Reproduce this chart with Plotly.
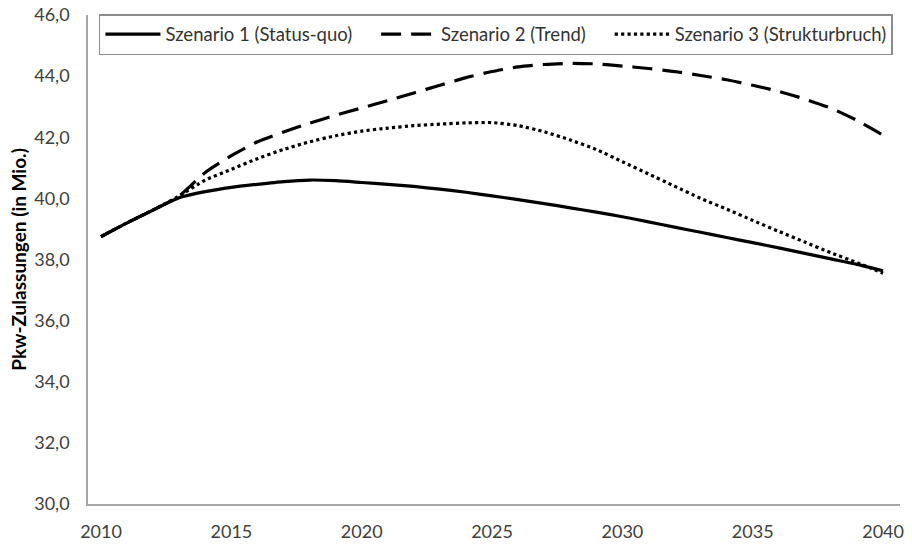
import plotly.graph_objects as go

# Pkw-Bestand in Deutschland nach Szenario (Mio.)
years = list(range(2010, 2041))

szenario_1 = [38.75, 39.20, 39.62, 40.02, 40.22, 40.36, 40.46, 40.55, 40.60, 40.58,
              40.52, 40.46, 40.39, 40.30, 40.20, 40.08, 39.96, 39.83, 39.69, 39.55,
              39.40, 39.23, 39.06, 38.89, 38.72, 38.55, 38.38, 38.20, 38.02, 37.84,
              37.63]

szenario_2 = [38.75, 39.20, 39.62, 40.08, 40.85, 41.40, 41.85, 42.17, 42.46, 42.72,
              42.96, 43.20, 43.45, 43.70, 43.95, 44.15, 44.30, 44.38, 44.42, 44.40,
              44.33, 44.25, 44.15, 44.02, 43.88, 43.70, 43.50, 43.25, 42.95, 42.55,
              42.07]

szenario_3 = [38.75, 39.20, 39.62, 40.08, 40.60, 40.95, 41.30, 41.60, 41.85, 42.05,
              42.20, 42.30, 42.38, 42.43, 42.47, 42.48, 42.38, 42.18, 41.91, 41.60,
              41.20, 40.80, 40.40, 40.00, 39.65, 39.28, 38.92, 38.57, 38.22, 37.90,
              37.55]

names = ["Szenario 1 (Status-quo)", "Szenario 2 (Trend)", "Szenario 3 (Strukturbruch)"]
x_ticks = [2010, 2015, 2020, 2025, 2030, 2035, 2040]
y_ticks = [30, 32, 34, 36, 38, 40, 42, 44, 46]

font_main = "Lato, Arial, sans-serif"
NBSP = "\u00a0"
# trailing spacing between legend entries
legend_pad = [4, 4, 0]

fig = go.Figure()
styles = [("solid", szenario_1), ("20px,10px", szenario_2), ("dot", szenario_3)]
for (dash, values), name, pad in zip(styles, names, legend_pad):
    fig.add_trace(go.Scatter(
        x=years, y=values, name=name + NBSP * pad, mode="lines",
        line=dict(color="black", width=3.2, dash=dash, shape="spline", smoothing=0.6),
    ))

fig.update_layout(
    width=912, height=544,
    margin=dict(l=88, r=12, t=15, b=40, autoexpand=False),
    paper_bgcolor="white", plot_bgcolor="white",
    separators=",.",
    showlegend=True,
    font=dict(family=font_main, size=18, color="#404040"),
    legend=dict(
        orientation="h",
        x=0.0135, y=1.002, xanchor="left", yanchor="top",
        bgcolor="white", bordercolor="#8c8c8c", borderwidth=1.5,
        font=dict(family=font_main, size=18.5, color="#333333"),
        itemwidth=55,
        tracegroupgap=0,
    ),
    annotations=[dict(
        text="<b>Pkw-Zulassungen (in Mio.)</b>",
        xref="paper", yref="paper", x=-0.086, y=0.5,
        xanchor="center", yanchor="middle", textangle=-90, showarrow=False,
        font=dict(family=font_main, size=19, color="black"),
    )],
)

fig.update_xaxes(
    range=[2009.5, 2040.65],
    tickmode="array", tickvals=x_ticks, ticktext=[str(v) for v in x_ticks],
    showgrid=False, zeroline=False, automargin=False,
    showline=True, linecolor="#a6a6a6", linewidth=1.5,
    ticks="", ticklabelstandoff=11,
)
fig.update_yaxes(
    range=[30, 46],
    tickmode="array", tickvals=y_ticks, tickformat=".1f",
    showgrid=False, zeroline=False, automargin=False,
    showline=True, linecolor="#a6a6a6", linewidth=1.5,
    ticks="", ticklabelstandoff=13,
)

fig.write_html("out.html")
